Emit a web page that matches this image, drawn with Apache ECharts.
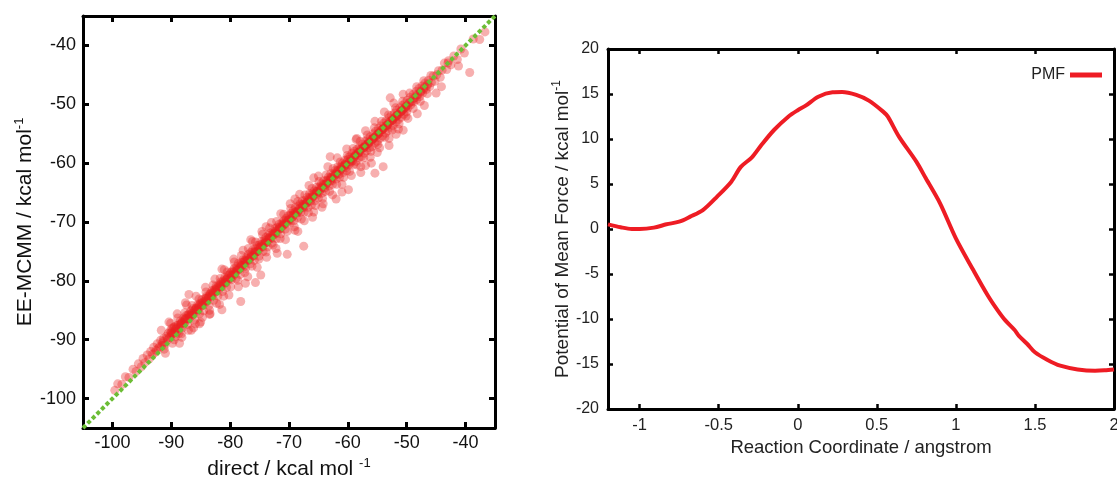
<!DOCTYPE html>
<html>
<head>
<meta charset="utf-8">
<script src="https://cdn.jsdelivr.net/npm/echarts@6/dist/echarts.min.js"></script>
<style>
html,body{margin:0;padding:0;background:#fff;}
#chart{width:1117px;height:480px;}
</style>
</head>
<body>
<div id="chart"></div>
<script>
// ---- Left panel: direct vs EE-MCMM energies (kcal/mol), [direct, EE-MCMM]
const scatterPoints = [
[-99.6,-98.6],[-99.1,-97.5],[-98.4,-97.6],[-97.8,-96.3],[-97.2,-96.4],[-96.5,-95.0],[-96.0,-95.4],[-95.6,-94.1],[-95.1,-94.6],[-94.8,-93.2],[-94.5,-93.9],[-94.1,-92.6],[-93.8,-93.3],[-93.5,-92.0],[-93.2,-92.5],[-93.0,-91.3],[-92.8,-92.2],[-92.6,-91.8],[-92.4,-90.7],[-92.2,-91.5],[-92.0,-91.2],[-91.8,-90.1],[-91.6,-91.0],[-91.5,-90.6],[-91.3,-89.8],[-91.1,-90.9],[-91.0,-92.3],[-90.8,-89.4],[-90.6,-90.0],[-90.5,-88.9],
[-90.3,-89.6],[-90.2,-88.5],[-90.0,-89.3],[-89.9,-88.1],[-89.7,-88.9],[-89.6,-87.9],[-89.4,-88.6],[-89.3,-89.5],[-89.1,-87.6],[-89.0,-88.2],[-88.8,-87.5],[-88.7,-88.9],[-88.5,-86.8],[-88.4,-87.8],[-88.2,-87.0],[-88.1,-88.0],[-87.9,-86.3],[-87.8,-87.1],[-87.6,-86.9],[-87.5,-85.9],[-87.3,-86.5],[-87.2,-87.4],[-87.0,-85.6],[-86.9,-86.2],[-86.7,-85.1],[-86.6,-86.0],[-86.4,-85.8],[-86.3,-84.7],[-86.1,-85.5],[-86.0,-86.6],[-85.8,-84.6],[-85.7,-85.2],[-85.5,-84.0],[-85.4,-84.9],[-85.2,-85.6],[-85.1,-83.8],[-84.9,-84.3],[-84.8,-83.2],[-84.6,-84.1],[-84.5,-85.1],[-84.3,-83.0],[-84.2,-83.7],[-84.0,-82.6],[-83.9,-83.5],[-83.7,-82.9],[-83.6,-84.2],[-83.4,-82.2],[-83.3,-82.8],[-83.1,-81.7],[-83.0,-82.5],[-82.8,-83.3],[-82.7,-81.5],[-82.5,-81.9],[-82.4,-80.9],[-82.2,-81.6],[-82.1,-82.6],[-81.9,-80.7],[-81.8,-81.3],[-81.6,-80.2],[-81.5,-81.0],[-81.3,-81.8],[-81.2,-80.0],[-81.0,-80.5],[-80.9,-79.4],[-80.7,-80.3],[-80.6,-81.1],[-80.4,-79.1],[-80.3,-79.8],[-80.1,-78.9],[-80.0,-79.6],
[-89.85,-89.0],[-89.45,-87.8],[-88.95,-88.6],[-88.35,-87.3],[-87.75,-86.6],[-87.15,-85.8],[-86.55,-85.6],[-85.95,-84.9],[-85.35,-84.5],[-84.75,-83.7],[-84.15,-83.4],[-83.55,-82.4],[-82.95,-82.1],[-82.35,-81.2],[-81.75,-80.9],[-81.15,-80.4],[-80.55,-79.7],
[-90.1,-87.2],[-89.5,-90.0],[-88.9,-86.3],[-88.3,-89.0],[-87.7,-85.4],[-87.1,-88.4],[-86.5,-84.2],[-85.9,-87.3],[-85.3,-83.1],[-84.7,-86.2],[-84.1,-81.9],[-83.5,-85.0],[-82.9,-80.7],[-82.3,-83.8],[-81.7,-79.6],[-81.1,-82.6],[-80.5,-78.5],
[-90.05,-88.8],[-89.25,-88.2],[-88.45,-87.5],[-87.65,-86.5],[-86.85,-85.9],[-86.05,-85.0],[-85.25,-84.1],[-84.45,-83.5],[-83.65,-82.7],[-82.85,-81.9],[-82.05,-81.1],[-81.25,-80.2],[-80.45,-79.5],
[-91.7,-88.4],[-91.2,-91.6],[-90.4,-87.0],[-89.8,-90.6],[-89.0,-85.6],[-88.2,-89.6],[-87.4,-84.1],[-86.6,-88.4],[-85.8,-82.6],[-85.0,-87.0],[-84.2,-81.1],[-83.4,-85.6],[-82.6,-79.7],[-81.8,-84.0],[-81.0,-78.1],[-80.2,-82.4],
[-91.4,-90.3],[-90.7,-89.7],[-89.95,-88.7],[-89.15,-88.0],[-88.25,-87.2],[-87.45,-86.4],[-86.65,-85.6],[-85.75,-84.7],[-84.95,-83.9],[-84.05,-83.0],[-83.25,-82.2],[-82.45,-81.5],[-81.55,-80.6],[-80.75,-79.9],
[-87.0,-82.3],[-87.6,-83.7],[-85.2,-87.3],[-83.5,-85.7],[-81.4,-84.9],[-81.4,-78.0],[-88.6,-90.6],[-86.2,-88.0],
[-79.9,-78.6],[-79.8,-79.8],[-79.6,-78.3],[-79.5,-79.2],[-79.3,-77.9],[-79.2,-78.8],[-79.0,-79.6],[-78.9,-77.6],[-78.7,-78.2],[-78.6,-77.0],[-78.4,-77.9],[-78.3,-78.9],[-78.1,-76.9],[-78.0,-77.4],[-77.8,-76.4],[-77.7,-77.6],[-77.5,-76.5],[-77.4,-77.9],[-77.2,-76.0],[-77.1,-76.7],[-76.9,-75.5],[-76.8,-76.4],[-76.6,-77.1],[-76.5,-75.2],[-76.3,-75.9],[-76.2,-74.8],[-76.0,-75.7],[-75.9,-76.5],[-75.7,-74.6],[-75.6,-75.1],[-75.4,-74.0],[-75.3,-75.0],[-75.1,-75.8],[-75.0,-73.9],[-74.8,-74.4],[-74.7,-73.3],[-74.5,-74.2],[-74.4,-75.0],[-74.2,-73.0],[-74.1,-73.6],[-73.9,-72.6],[-73.8,-73.5],[-73.6,-74.2],[-73.5,-72.3],[-73.3,-72.9],[-73.2,-71.9],[-73.0,-72.8],[-72.9,-73.6],[-72.7,-71.6],[-72.6,-72.2],[-72.4,-71.1],[-72.3,-72.0],[-72.1,-72.8],[-72.0,-70.9],[-71.8,-71.4],[-71.7,-70.4],[-71.5,-71.2],[-71.4,-72.0],[-71.2,-70.1],[-71.1,-70.7],[-70.9,-69.8],[-70.8,-70.5],[-70.6,-71.2],[-70.5,-69.4],[-70.3,-70.0],[-70.2,-69.0],[-70.0,-69.8],
[-79.45,-78.5],[-78.85,-78.0],[-78.25,-77.2],[-77.65,-76.8],[-77.05,-76.2],[-76.45,-75.6],[-75.85,-75.0],[-75.25,-74.4],[-74.65,-73.8],[-74.05,-73.2],[-73.45,-72.7],[-72.85,-72.1],[-72.25,-71.5],[-71.65,-70.9],[-71.05,-70.3],[-70.45,-69.7],
[-79.9,-81.0],[-79.3,-76.8],[-78.7,-79.9],[-78.1,-75.7],[-77.5,-78.6],[-76.9,-74.5],[-76.3,-77.5],[-75.7,-73.4],[-75.1,-76.3],[-74.5,-72.1],[-73.9,-75.1],[-73.3,-71.0],[-72.7,-73.9],[-72.1,-69.9],[-71.5,-72.8],[-70.9,-68.7],[-70.3,-71.6],
[-79.65,-79.0],[-78.85,-78.3],[-78.05,-77.4],[-77.25,-76.6],[-76.45,-75.9],[-75.65,-75.1],[-74.85,-74.2],[-74.05,-73.5],[-73.25,-72.6],[-72.45,-71.9],[-71.65,-71.1],[-70.85,-70.3],[-70.05,-69.6],
[-79.4,-76.3],[-78.6,-81.0],[-77.8,-74.8],[-77.0,-79.3],[-76.2,-73.3],[-75.4,-77.7],[-74.6,-71.6],[-73.8,-76.0],[-73.0,-70.1],[-72.2,-74.5],[-71.4,-68.6],[-70.6,-73.0],
[-79.75,-79.1],[-78.95,-78.3],[-78.15,-77.6],[-77.35,-76.7],[-76.55,-76.0],[-75.75,-75.2],[-74.95,-74.3],[-74.15,-73.6],[-73.35,-72.8],[-72.55,-72.0],[-71.75,-71.2],[-70.95,-70.5],[-70.15,-69.7],
[-78.2,-83.5],[-75.7,-80.3],[-74.8,-79.0],[-76.5,-73.0],[-73.9,-70.8],[-70.3,-75.5],[-72.0,-75.3],[-77.4,-80.4],
[-69.9,-68.9],[-69.8,-70.2],[-69.6,-68.5],[-69.5,-69.3],[-69.3,-68.1],[-69.2,-69.8],[-69.0,-68.3],[-68.9,-67.5],[-68.7,-68.5],[-68.6,-69.3],[-68.4,-67.3],[-68.3,-67.9],[-68.1,-66.9],[-68.0,-68.4],[-67.8,-67.0],[-67.7,-66.4],[-67.5,-67.6],[-67.4,-68.3],[-67.2,-66.3],[-67.1,-66.8],[-66.9,-65.8],[-66.8,-67.5],[-66.6,-65.9],[-66.5,-65.2],[-66.3,-66.4],[-66.2,-67.1],[-66.0,-65.1],[-65.9,-65.7],[-65.7,-64.7],[-65.6,-66.4],[-65.4,-64.8],[-65.3,-64.1],[-65.1,-65.3],[-65.0,-65.9],[-64.8,-64.0],[-64.7,-64.6],[-64.5,-63.5],[-64.4,-65.1],[-64.2,-63.6],[-64.1,-63.0],[-63.9,-64.2],[-63.8,-64.8],[-63.6,-62.9],[-63.5,-63.4],[-63.3,-62.4],[-63.2,-63.9],[-63.0,-62.5],[-62.9,-61.8],[-62.7,-63.0],[-62.6,-63.6],[-62.4,-61.7],[-62.3,-62.2],[-62.1,-61.2],[-62.0,-62.7],[-61.8,-61.3],[-61.7,-60.6],[-61.5,-61.9],[-61.4,-62.4],[-61.2,-60.5],[-61.1,-61.0],[-60.9,-60.0],[-60.8,-61.6],[-60.6,-60.2],[-60.5,-59.5],[-60.3,-60.8],[-60.2,-61.3],[-60.0,-59.4],
[-69.45,-68.8],[-68.85,-68.3],[-68.25,-67.7],[-67.65,-67.1],[-67.05,-66.6],[-66.45,-66.0],[-65.85,-65.3],[-65.25,-64.8],[-64.65,-64.2],[-64.05,-63.7],[-63.45,-63.0],[-62.85,-62.5],[-62.25,-61.9],[-61.65,-61.3],[-61.05,-60.7],[-60.45,-60.2],
[-69.7,-67.7],[-69.1,-70.8],[-68.5,-66.5],[-67.9,-69.5],[-67.3,-65.4],[-66.7,-68.4],[-66.1,-64.3],[-65.5,-67.2],[-64.9,-63.1],[-64.3,-66.0],[-63.7,-62.0],[-63.1,-64.8],[-62.5,-60.9],[-61.9,-63.6],[-61.3,-59.8],[-60.7,-62.4],[-60.1,-58.7],
[-69.25,-68.9],[-68.45,-68.2],[-67.65,-67.4],[-66.85,-66.6],[-66.05,-65.8],[-65.25,-65.1],[-64.45,-64.2],[-63.65,-63.5],[-62.85,-62.7],[-62.05,-61.9],[-61.25,-61.1],[-60.45,-60.4],
[-69.8,-66.9],[-69.0,-71.4],[-68.2,-65.3],[-67.4,-69.8],[-66.6,-63.8],[-65.8,-68.3],[-65.0,-62.2],[-64.2,-66.9],[-63.4,-60.6],[-62.6,-65.4],[-61.8,-59.1],[-61.0,-63.6],[-60.2,-57.6],
[-69.35,-69.1],[-68.55,-68.3],[-67.75,-67.5],[-66.95,-66.8],[-66.15,-65.9],[-65.35,-65.1],[-64.55,-64.4],[-63.75,-63.6],[-62.95,-62.9],[-62.15,-62.0],[-61.35,-61.3],[-60.55,-60.5],
[-67.5,-74.1],[-65.8,-62.5],[-66.0,-69.2],[-64.4,-67.5],[-62.0,-66.1],[-68.5,-71.6],[-63.0,-58.9],[-69.0,-66.1],[-61.0,-64.9],
[-59.9,-59.0],[-59.8,-60.3],[-59.6,-58.9],[-59.5,-59.9],[-59.3,-58.3],[-59.2,-59.6],[-59.0,-60.2],[-58.9,-58.0],[-58.7,-58.6],[-58.6,-59.7],[-58.4,-57.6],[-58.3,-58.4],[-58.1,-59.1],[-58.0,-57.2],[-57.8,-57.7],[-57.7,-58.9],[-57.5,-56.8],[-57.4,-57.5],[-57.2,-58.3],[-57.1,-56.3],[-56.9,-56.9],[-56.8,-57.9],[-56.6,-55.9],[-56.5,-56.6],[-56.3,-57.4],[-56.2,-55.5],[-56.0,-56.1],[-55.9,-57.2],[-55.7,-55.0],[-55.6,-55.7],[-55.4,-56.6],[-55.3,-54.6],[-55.1,-55.3],[-55.0,-56.3],[-54.8,-54.1],[-54.7,-54.9],[-54.5,-55.8],[-54.4,-53.7],[-54.2,-54.3],[-54.1,-55.4],[-53.9,-53.2],[-53.8,-54.0],[-53.6,-54.9],[-53.5,-52.8],[-53.3,-53.6],[-53.2,-54.5],[-53.0,-52.3],[-52.9,-53.0],[-52.7,-53.9],[-52.6,-51.9],[-52.4,-52.7],[-52.3,-53.6],[-52.1,-51.5],[-52.0,-52.2],[-51.8,-53.0],[-51.7,-51.0],[-51.5,-51.8],[-51.4,-52.6],[-51.2,-50.6],[-51.1,-51.3],[-50.9,-52.2],[-50.8,-50.2],[-50.6,-50.9],[-50.5,-51.7],[-50.3,-49.8],[-50.2,-50.5],[-50.0,-51.3],
[-59.45,-59.3],[-58.85,-58.8],[-58.25,-58.2],[-57.65,-57.5],[-57.05,-57.1],[-56.45,-56.4],[-55.85,-55.9],[-55.25,-55.4],[-54.65,-54.7],[-54.05,-54.2],[-53.45,-53.6],[-52.85,-53.0],[-52.25,-52.4],[-51.65,-51.9],[-51.05,-51.3],[-50.45,-50.7],
[-59.7,-61.4],[-59.1,-57.5],[-58.5,-60.3],[-57.9,-56.3],[-57.3,-59.1],[-56.7,-55.2],[-56.1,-58.0],[-55.5,-54.0],[-54.9,-56.8],[-54.3,-52.9],[-53.7,-55.6],[-53.1,-51.8],[-52.5,-54.4],[-51.9,-50.6],[-51.3,-53.3],[-50.7,-49.5],[-50.1,-52.0],
[-59.65,-59.7],[-58.85,-58.9],[-58.05,-58.1],[-57.25,-57.3],[-56.45,-56.6],[-55.65,-55.8],[-54.85,-55.0],[-54.05,-54.2],[-53.25,-53.5],[-52.45,-52.7],[-51.65,-51.9],[-50.85,-51.1],[-50.05,-50.3],
[-59.4,-62.1],[-58.6,-56.0],[-57.8,-60.6],[-57.0,-54.5],[-56.2,-59.0],[-55.4,-52.9],[-54.6,-57.4],[-53.8,-51.3],[-53.0,-55.8],[-52.2,-49.8],[-51.4,-54.2],[-50.6,-48.3],[-49.8,-52.4],
[-59.75,-59.8],[-58.95,-59.0],[-58.15,-58.2],[-57.35,-57.4],[-56.55,-56.7],[-55.75,-55.9],[-54.95,-55.1],[-54.15,-54.3],[-53.35,-53.5],[-52.55,-52.7],[-51.75,-52.0],[-50.95,-51.2],[-50.15,-50.4],
[-54.0,-60.6],[-55.4,-61.7],[-59.9,-64.5],[-57.0,-60.4],[-56.0,-60.0],[-52.8,-48.9],[-58.5,-55.8],[-53.0,-57.0],[-50.6,-54.4],[-51.8,-55.1],[-55.0,-58.2],[-57.8,-61.6],
[-49.9,-49.3],[-49.8,-50.6],[-49.6,-49.8],[-49.4,-48.8],[-49.3,-50.1],[-49.1,-49.5],[-48.9,-48.3],[-48.8,-49.6],[-48.6,-48.9],[-48.4,-47.8],[-48.3,-49.2],[-48.1,-48.4],[-47.9,-47.3],[-47.8,-48.7],[-47.6,-47.9],[-47.4,-46.9],[-47.3,-48.1],[-47.1,-47.4],[-46.9,-46.4],[-46.7,-47.5],[-46.5,-46.8],[-46.3,-45.9],[-46.1,-47.0],[-45.8,-46.3],[-45.5,-45.2],[-45.2,-46.1],[-44.9,-45.0],[-44.6,-44.3],[-44.3,-45.4],[-44.0,-44.2],[-43.6,-43.0],[-43.2,-44.1],[-42.9,-42.6],[-42.5,-43.3],[-42.0,-41.8],[-41.4,-42.4],[-40.8,-40.6],[-40.2,-41.3],[-39.3,-44.6],[-38.7,-38.9],[-37.6,-39.0],[-36.7,-37.7],[-45.0,-48.1],[-44.1,-47.0],[-47.0,-50.2],[-48.2,-51.6],[-43.0,-43.0],[-41.2,-43.5],
[-49.45,-49.6],[-48.85,-49.0],[-48.25,-48.4],[-47.65,-47.8],[-47.05,-47.2],[-46.45,-46.6],
[-49.5,-48.1],[-48.9,-50.7],[-48.3,-47.0],[-47.7,-49.5],[-47.1,-46.0],[-46.5,-48.2],[-45.9,-45.1]
];
const diagonal = [[-105,-105],[-35,-35]];
const leftRange = [-105, -35];

// ---- Right panel: PMF along reaction coordinate
const pmfX = [-1.2,-1.12,-1.05,-1.0,-0.91,-0.83,-0.75,-0.68,-0.6,-0.51,-0.42,-0.36,-0.29,-0.23,-0.15,-0.06,0,0.05,0.13,0.22,0.28,0.37,0.45,0.54,0.57,0.64,0.75,0.81,0.9,1.0,1.11,1.2,1.26,1.31,1.37,1.4,1.45,1.5,1.58,1.66,1.77,1.88,1.94,2.0];
const pmfY = [0.52,0.19,0.0,0.0,0.15,0.52,0.81,1.37,2.1,3.6,5.26,6.9,7.96,9.33,11.0,12.48,13.2,13.7,14.7,15.19,15.22,14.9,14.26,13.04,12.48,10.26,7.48,5.63,2.85,-1.04,-4.56,-7.33,-8.93,-10.1,-11.2,-11.9,-12.75,-13.7,-14.56,-15.19,-15.6,-15.74,-15.7,-15.6];
const rightXRange = [-1.2, 2];
const rightYRange = [-20, 20];

const FONT = "'Liberation Sans', Arial, sans-serif";
const chart = echarts.init(document.getElementById('chart'), null, {renderer: 'canvas'});

const axisLine = {show: true, onZero: false, lineStyle: {color: '#000', width: 3}};
function tick(len, w) { return {show: true, inside: true, length: len, lineStyle: {color: '#000', width: w}}; }
const tens = v => (Math.abs(v % 10) < 1e-9 ? String(v) : '');

function supName(main, size, supSize, color) {
  return {
    name: '{t|' + main + '}{s|-1}',
    nameTextStyle: {
      fontFamily: FONT,
      rich: {
        t: {fontSize: size, fontFamily: FONT, color: color, lineHeight: size + 4},
        s: {fontSize: supSize, fontFamily: FONT, color: color, verticalAlign: 'top', lineHeight: supSize}
      }
    }
  };
}

const option = {
  animation: false,
  backgroundColor: '#fff',
  grid: [
    {left: 83, top: 16, width: 412, height: 412, containLabel: false, outerBoundsMode: 'none'},
    {left: 608, top: 49, width: 506, height: 360, containLabel: false, outerBoundsMode: 'none'}
  ],
  legend: {
    show: true,
    data: ['PMF'],
    right: 10,
    top: 62,
    align: 'right',
    icon: 'rect',
    itemWidth: 32,
    itemHeight: 5,
    textStyle: {fontFamily: FONT, fontSize: 16, color: '#222'},
    itemGap: 8
  },
  xAxis: [
    Object.assign({
      gridIndex: 0, type: 'value', position: 'bottom',
      min: leftRange[0], max: leftRange[1], splitNumber: 7,
      axisLine: axisLine, axisTick: tick(6, 3), splitLine: {show: false},
      axisLabel: {fontFamily: FONT, fontSize: 18, color: '#111', margin: 6, formatter: tens, showMinLabel: false, showMaxLabel: false},
      nameLocation: 'middle', nameGap: 27
    }, supName('direct / kcal mol ', 21, 13, '#111')),
    {
      gridIndex: 0, type: 'value', position: 'top',
      min: leftRange[0], max: leftRange[1], splitNumber: 7,
      axisLine: axisLine, axisTick: tick(6, 3), splitLine: {show: false},
      axisLabel: {show: false}
    },
    {
      gridIndex: 1, type: 'value', position: 'bottom',
      min: rightXRange[0], max: rightXRange[1], splitNumber: 6,
      axisLine: axisLine, axisTick: tick(5, 2.5), splitLine: {show: false},
      axisLabel: {fontFamily: FONT, fontSize: 16.5, color: '#222', margin: 8, showMinLabel: false},
      nameLocation: 'middle', nameGap: 27,
      name: 'Reaction Coordinate / angstrom',
      nameTextStyle: {fontFamily: FONT, fontSize: 18.5, color: '#222'}
    },
    {
      gridIndex: 1, type: 'value', position: 'top',
      min: rightXRange[0], max: rightXRange[1], splitNumber: 6,
      axisLine: axisLine, axisTick: tick(5, 2.5), splitLine: {show: false},
      axisLabel: {show: false}
    }
  ],
  yAxis: [
    Object.assign({
      gridIndex: 0, type: 'value', position: 'left',
      min: leftRange[0], max: leftRange[1], splitNumber: 7,
      axisLine: axisLine, axisTick: tick(6, 3), splitLine: {show: false},
      axisLabel: {fontFamily: FONT, fontSize: 18, color: '#111', margin: 7, formatter: tens, showMinLabel: false, showMaxLabel: false},
      nameLocation: 'middle', nameGap: 35, nameRotate: 90
    }, supName('EE-MCMM / kcal mol', 21, 13, '#111')),
    {
      gridIndex: 0, type: 'value', position: 'right',
      min: leftRange[0], max: leftRange[1], splitNumber: 7,
      axisLine: axisLine, axisTick: tick(6, 3), splitLine: {show: false},
      axisLabel: {show: false}
    },
    Object.assign({
      gridIndex: 1, type: 'value', position: 'left',
      min: rightYRange[0], max: rightYRange[1], interval: 5,
      axisLine: axisLine, axisTick: tick(5, 2.5), splitLine: {show: false},
      axisLabel: {fontFamily: FONT, fontSize: 16, color: '#222', margin: 9},
      nameLocation: 'middle', nameGap: 25, nameRotate: 90
    }, supName('Potential of Mean Force / kcal mol', 19, 12, '#222')),
    {
      gridIndex: 1, type: 'value', position: 'right',
      min: rightYRange[0], max: rightYRange[1], interval: 5,
      axisLine: axisLine, axisTick: tick(5, 2.5), splitLine: {show: false},
      axisLabel: {show: false}
    }
  ],
  series: [
    {
      type: 'scatter', xAxisIndex: 0, yAxisIndex: 0,
      data: scatterPoints, symbol: 'circle', symbolSize: 9,
      itemStyle: {color: 'rgb(232,32,32)', opacity: 0.36},
      emphasis: {disabled: true}, z: 2, large: false
    },
    {
      type: 'line', xAxisIndex: 0, yAxisIndex: 0,
      data: diagonal, symbol: 'none',
      lineStyle: {color: '#6cbd35', width: 4, type: [4, 2.5], cap: 'butt'},
      z: 3, silent: true
    },
    {
      name: 'PMF', type: 'line', xAxisIndex: 2, yAxisIndex: 2,
      data: pmfX.map((x, i) => [x, pmfY[i]]),
      symbol: 'none', smooth: 0.3,
      lineStyle: {color: '#ee1c24', width: 4},
      itemStyle: {color: '#ee1c24'},
      z: 3
    }
  ]
};
chart.setOption(option);
</script>
</body>
</html>
